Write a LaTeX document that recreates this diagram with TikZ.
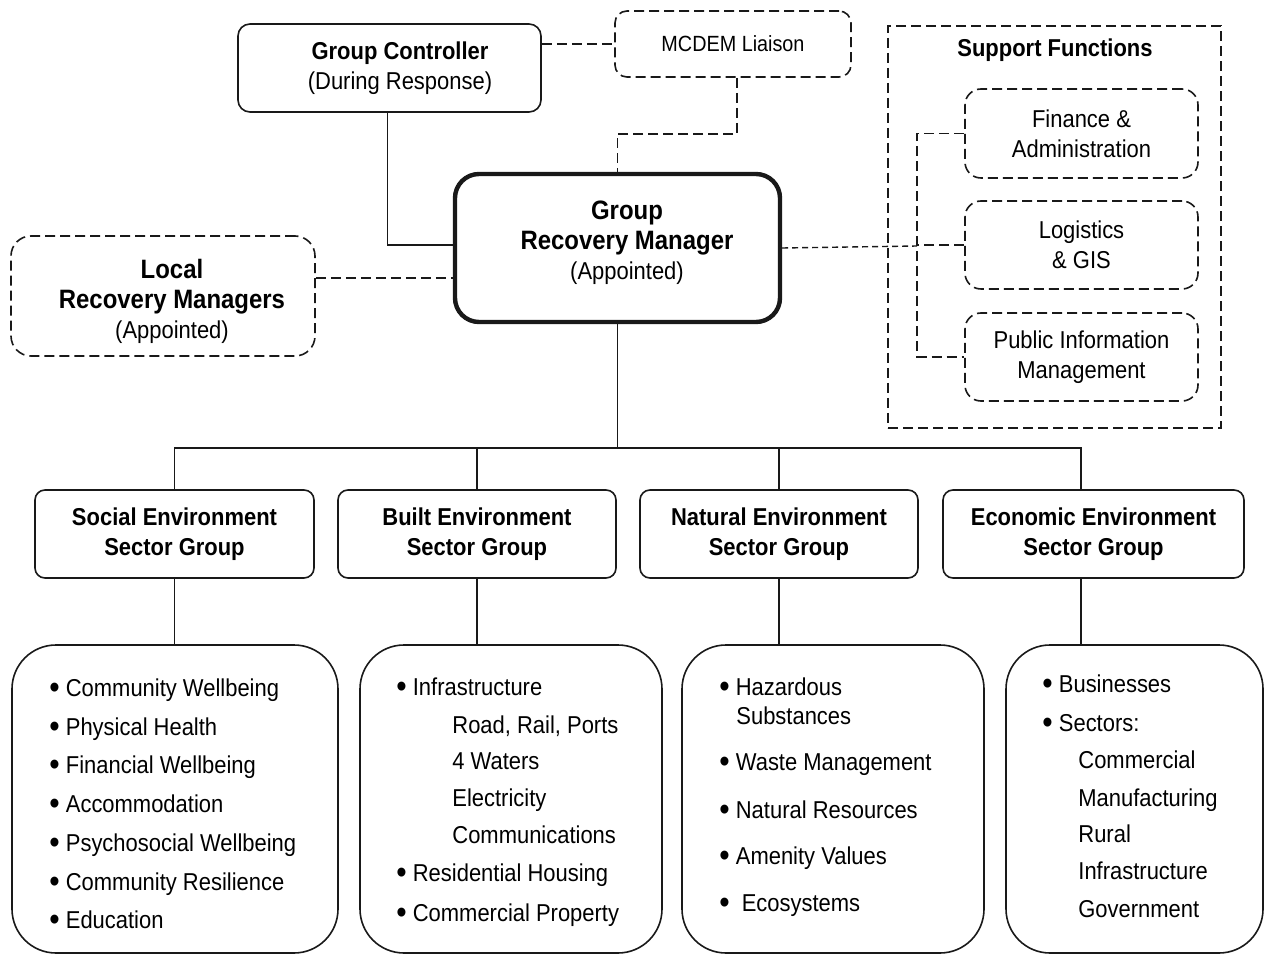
\documentclass[tikz,border=0pt]{standalone}
\usepackage{fontspec}
\setmainfont{Liberation Sans}[FakeStretch=0.9]
\usetikzlibrary{positioning,calc}

\newcommand\txtsz{\fontsize{12.2}{15}\selectfont}
\newcommand\hdsz{\fontsize{13.3}{16}\selectfont}
\newcommand\blt{\raisebox{-1.3pt}{\scalebox{1.35}{\textbullet}}}

\tikzset{
  box/.style={draw=black!90, line width=0.8pt, rounded corners=6pt, align=center,
    inner sep=0pt, font=\txtsz},
  dbox/.style={box, dash pattern=on 5pt off 2.5pt},
  mgrbox/.style={box, line width=2.2pt, rounded corners=12pt},
  sectbox/.style={box, rounded corners=5pt, font=\txtsz\bfseries},
  listbox/.style={box, rounded corners=22pt},
  lbl/.style={align=center, inner sep=0pt, font=\txtsz},
  conn/.style={draw=black!90, line width=0.8pt},
  dconn/.style={conn, dash pattern=on 5pt off 2.5pt},
  fconn/.style={conn, line width=0.7pt, dash pattern=on 3pt off 2pt},
  item/.style={anchor=mid west, inner sep=0pt, font=\txtsz},
}

\begin{document}
\begin{tikzpicture}[x=0.5pt,y=-0.5pt]
\useasboundingbox (0,0) rectangle (1268,956);

% top row
\node[box, minimum width=151.5pt, minimum height=44pt] (gc) at (389.5,68) {};
\node[lbl] (gc-lbl) at (400,68) {\textbf{Group Controller}\\(During Response)};
\node[dbox, minimum width=118pt, minimum height=33pt, font=\fontsize{11}{12}\selectfont] (mcdem) at (733,44)
  {MCDEM Liaison};
\node[mgrbox, minimum width=162.5pt, minimum height=74pt] (grm) at (617.5,248) {};
\node[lbl] (grm-lbl) at (627,243)
  {\hdsz\bfseries Group\\\hdsz\bfseries Recovery Manager\\(Appointed)};
\node[dbox, rounded corners=10pt, minimum width=152pt, minimum height=60pt] (local) at (163,296) {};
\node[lbl] (local-lbl) at (172,301)
  {\hdsz\bfseries Local\\\hdsz\bfseries Recovery Managers\\(Appointed)};

% support functions
\node[draw=black!90, line width=1.2pt, dash pattern=on 5pt off 2.5pt,
  minimum width=166.5pt, minimum height=201pt] (sf) at (1054.5,227) {};
\node[lbl, font=\txtsz\bfseries] (sf-lbl) at (1055,50) {Support Functions};
\node[dbox, rounded corners=8pt, minimum width=116.5pt, minimum height=44.5pt] (fin) at (1081.5,133.5)
  {Finance \&\\Administration};
\node[dbox, rounded corners=8pt, minimum width=116.5pt, minimum height=44pt] (log) at (1081.5,245)
  {Logistics\\\& GIS};
\node[dbox, rounded corners=8pt, minimum width=116.5pt, minimum height=44pt] (pim) at (1081.5,357)
  {Public Information\\Management};

\coordinate (sf-top) at ([xshift=-23.5pt]fin.west);
\coordinate (sf-bot) at ([xshift=-23.5pt]pim.west);
\coordinate (lrm-out) at ([yshift=9pt]local.east);

% links above the manager
\draw[dconn] (gc.east |- mcdem.west) -- (mcdem.west);
\draw[dconn] ([xshift=2pt]mcdem.south) -- ++(0,56) -| (grm.north);
\draw[conn] ([xshift=-1pt]gc.south) |- ([yshift=1.5pt]grm.west);
\draw[dconn] (lrm-out) -- (lrm-out -| grm.west);
\draw[dconn] (fin.west) -- (sf-top) -- (sf-bot) -- (pim.west);
\draw[dconn] (log.west) -- (log.west -| sf-top);
\draw[fconn] (grm.east) -- ([yshift=1pt]grm.east -| sf-top);

% sector groups
\node[sectbox, minimum width=139.5pt, minimum height=44pt] (soc) at (174.5,534)
  {Social Environment\\Sector Group};
\node[sectbox, minimum width=139pt, minimum height=44pt] (blt) at (477,534)
  {Built Environment\\Sector Group};
\node[sectbox, minimum width=139pt, minimum height=44pt] (nat) at (779,534)
  {Natural Environment\\Sector Group};
\node[sectbox, minimum width=150.5pt, minimum height=44pt] (eco) at (1093.5,534)
  {Economic Environment\\Sector Group};

\coordinate (bus) at ($(grm.south)+(0,124)$);
\coordinate (eco-in) at ([xshift=-6.25pt]eco.north);
\coordinate (eco-out) at ([xshift=-6.25pt]eco.south);
\draw[conn] (grm.south) -- (bus);
\draw[conn] (bus) -| (soc.north);
\draw[conn] (bus) -| (blt.north);
\draw[conn] (bus) -| (nat.north);
\draw[conn] (bus) -| (eco-in);

% lists
\node[listbox, minimum width=163pt, minimum height=154pt] (soclist) at (175,799) {};
\node[listbox, minimum width=151pt, minimum height=154pt] (bltlist) at (511,799) {};
\node[listbox, minimum width=151pt, minimum height=154pt] (natlist) at (833,799) {};
\node[listbox, minimum width=128.5pt, minimum height=154pt] (ecolist) at (1134.5,799) {};

\draw[conn] (soc.south) -- (soc.south |- soclist.north);
\draw[conn] (blt.south) -- (blt.south |- bltlist.north);
\draw[conn] (nat.south) -- (nat.south |- natlist.north);
\draw[conn] (eco-out) -- (eco-out |- ecolist.north);

\foreach \y/\t [count=\i] in {691/Community Wellbeing, 730/Physical Health,
    768/Financial Wellbeing, 807/Accommodation, 846/Psychosocial Wellbeing,
    885/Community Resilience, 923/Education}
  \node[item] (soc-\i) at (49,\y) {\blt\ \t};

\foreach \y/\t [count=\i] in {690/Infrastructure, 876/Residential Housing,
    916/Commercial Property}
  \node[item] (blt-\i) at (396,\y) {\blt\ \t};
\foreach \y/\t [count=\i] in {728/{Road, Rail, Ports}, 764/4 Waters,
    801/Electricity, 838/Communications}
  \node[item] (bltsub-\i) at (452,\y) {\t};

\foreach \y/\t [count=\i] in {690/Hazardous, 765/Waste Management,
    813/Natural Resources, 859/Amenity Values}
  \node[item] (nat-\i) at (719,\y) {\blt\ \t};
\node[item] (nat-5) at (719,906) {\blt\hspace{6pt}Ecosystems};
\node[item] (natsub-1) at (736,719) {Substances};

\foreach \y/\t [count=\i] in {687/Businesses, 726/Sectors:}
  \node[item] (eco-\i) at (1042,\y) {\blt\ \t};
\foreach \y/\t [count=\i] in {763/Commercial, 801/Manufacturing, 837/Rural,
    874/Infrastructure, 912/Government}
  \node[item] (ecosub-\i) at (1078,\y) {\t};
\end{tikzpicture}
\end{document}
